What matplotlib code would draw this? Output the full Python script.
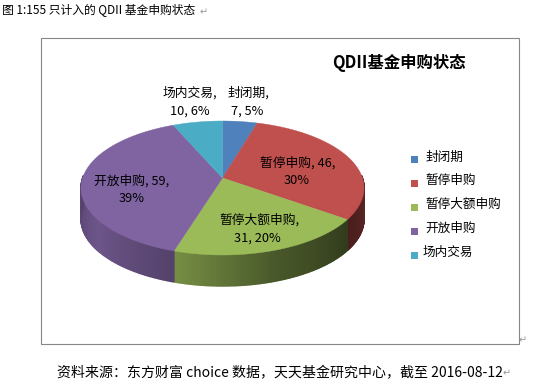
# -*- coding: utf-8 -*-
import numpy as np

import matplotlib
matplotlib.use("Agg")
import matplotlib.pyplot as plt
from matplotlib.patches import Polygon, Rectangle

plt.rcParams["font.family"] = ["Noto Sans CJK SC", "DejaVu Sans"]

CATEGORIES = ["封闭期", "暂停申购", "暂停大额申购", "开放申购", "场内交易"]
COUNTS = [7, 46, 31, 59, 10]
PERCENTS = [5, 30, 20, 39, 6]
COLORS = ["#4f81bd", "#c0504d", "#9bbb59", "#8064a2", "#4bacc6"]
# side wall shading, slice start -> end of its lower rim
SHADES = [(0.5, 0.5, 0.5), (0.55, 0.45, 0.38), (0.32, 0.47, 0.76),
          (0.66, 0.85, 0.66), (0.5, 0.5, 0.5)]

TITLE = "QDII基金申购状态"
CAPTION = "图 1:155 只计入的 QDII 基金申购状态"
SOURCE = "资料来源：东方财富 choice 数据，天天基金研究中心，截至 2016-08-12"

# pie geometry in image pixels
CX, CY, RX, RY = 222.5, 188.0, 141.5, 67.0
APEX_Y = 178.0
DEPTH = 31.0


def warp(theta):
    # the 3D view squeezes the right side and stretches the left
    return theta - np.radians(8) * np.sin(theta)


def rim(theta):
    phi = warp(theta)
    return CX + RX * np.sin(phi), CY - RY * np.cos(phi)


fig = plt.figure(figsize=(5.46, 3.82), dpi=100)
ax = fig.add_axes([0, 0, 1, 1])
ax.set_xlim(0, 546)
ax.set_ylim(382, 0)
ax.axis("off")

ax.add_patch(Rectangle((41, 38), 478, 306, facecolor="white", edgecolor="#868686", linewidth=0.8))

edges = np.concatenate([[0], np.cumsum(COUNTS)]) / sum(COUNTS) * 2 * np.pi

# side wall first, the top face goes over it
for i, color in enumerate(COLORS):
    a0, a1 = max(edges[i], np.pi / 2 - 0.05), min(edges[i + 1], 3 * np.pi / 2 + 0.05)
    if a1 <= a0:
        continue
    ts = np.linspace(a0, a1, 90)
    base = np.array(matplotlib.colors.to_rgb(color))
    shade = np.interp(np.linspace(0, 1, 89), [0, 0.5, 1], SHADES[i])
    for t0, t1, s in zip(ts[:-1], ts[1:], shade):
        x0, y0 = rim(t0)
        x1, y1 = rim(t1)
        ax.add_patch(Polygon([(x0, y0), (x1, y1), (x1, y1 + DEPTH), (x0, y0 + DEPTH)],
                             facecolor=base * s, edgecolor=base * s, linewidth=1.0))

# top face
for i, color in enumerate(COLORS):
    ts = np.linspace(edges[i], edges[i + 1], 120)
    xs, ys = rim(ts)
    pts = [(CX, APEX_Y)] + list(zip(xs, ys))
    ax.add_patch(Polygon(pts, facecolor=color, edgecolor=color, linewidth=0.3))

# data labels: (name line x, name line y, value line x, value line y)
LABEL_POS = [(248, 93, 247, 111), (298, 163, 297, 181), (259, 220, 257, 238),
             (132, 181, 132, 198), (190, 93, 190, 111)]
for i, (x0, y0, x1, y1) in enumerate(LABEL_POS):
    if i == 1 or i == 3:
        line0 = f"{CATEGORIES[i]}, {COUNTS[i]},"
        line1 = f"{PERCENTS[i]}%"
    else:
        line0 = f"{CATEGORIES[i]},"
        line1 = f"{COUNTS[i]}, {PERCENTS[i]}%"
    ax.text(x0, y0, line0, ha="center", va="center", fontsize=9.2, color="black")
    ax.text(x1, y1, line1, ha="center", va="center", fontsize=9.2, color="black")

# legend
LEGEND_Y = [159, 183, 207, 231, 255]
LEGEND_TEXT_Y = [157, 180, 204, 228, 252.5]
LEGEND_TEXT_X = [425, 425, 425, 425, 423]
for i, name in enumerate(CATEGORIES):
    ax.add_patch(Rectangle((411, LEGEND_Y[i] - 3.5), 7, 7, facecolor=COLORS[i], edgecolor="none"))
    ax.text(LEGEND_TEXT_X[i], LEGEND_TEXT_Y[i], name, ha="left", va="center", fontsize=9.1, color="black")

ax.text(398.5, 63, TITLE, ha="center", va="center", fontsize=11.8, fontweight="bold", color="black")
ax.text(2, 11, CAPTION, ha="left", va="center", fontsize=8.5, color="black")
ax.text(57, 373, SOURCE, ha="left", va="center", fontsize=10.05, color="black")

# word paragraph marks
for x, y in [(204, 12), (507, 373), (523, 340)]:
    ax.text(x, y, "↵", ha="center", va="center", fontsize=7, color="#999999", family="DejaVu Sans")

fig.savefig("out.png", dpi=100)
